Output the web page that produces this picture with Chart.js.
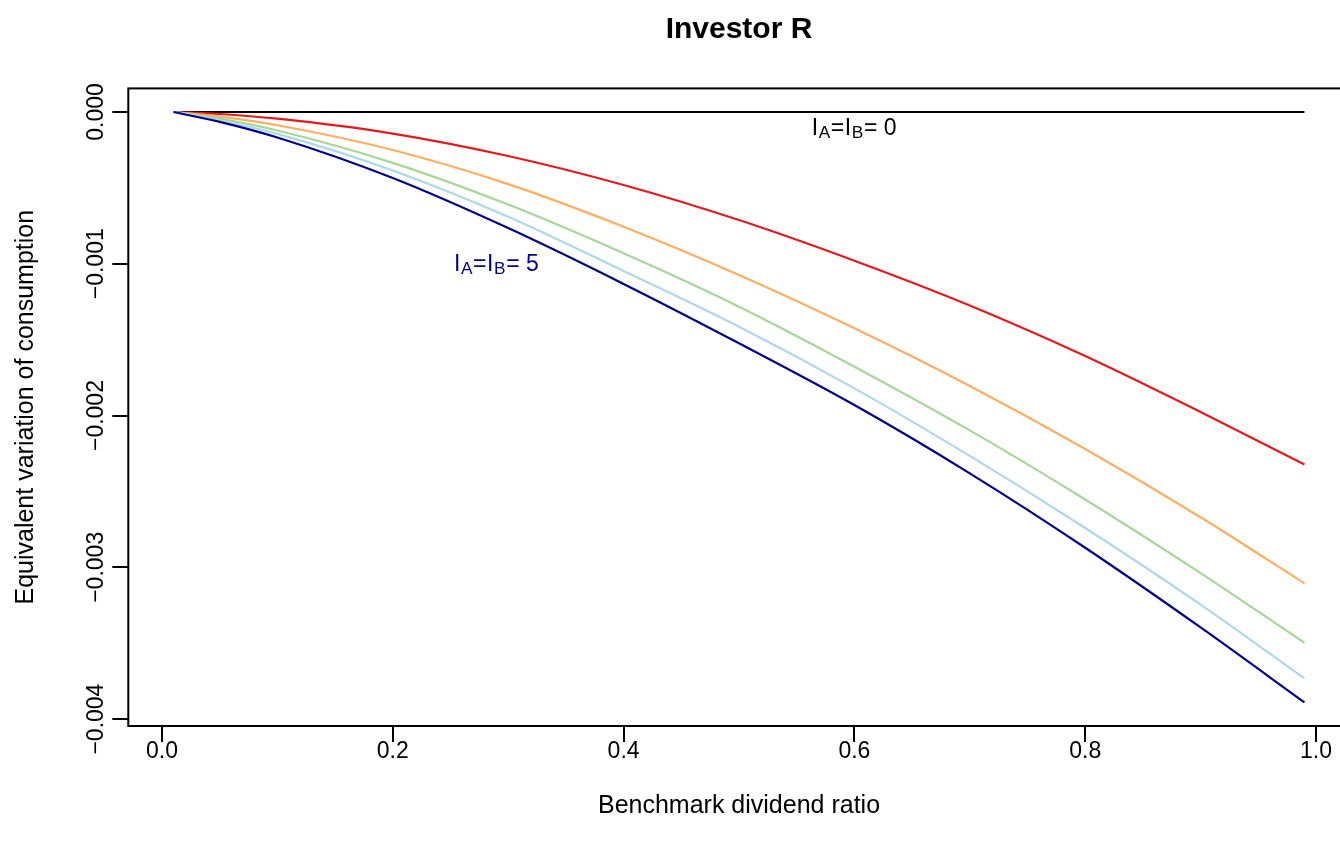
<!DOCTYPE html>
<html>
<head>
<meta charset="utf-8">
<script src="https://cdn.jsdelivr.net/npm/chart.js@4/dist/chart.umd.min.js"></script>
<style>
  html, body { margin: 0; padding: 0; background: #ffffff; overflow: hidden; }
  #wrap { width: 1360px; height: 846px; }
</style>
</head>
<body>
<div id="wrap"><canvas id="ev" width="1360" height="846"></canvas></div>
<script>
// Benchmark dividend ratio (x) and equivalent variation of consumption per information level
const dividendRatio = [0.01, 0.05, 0.1, 0.2, 0.3, 0.4, 0.5, 0.6, 0.7, 0.8, 0.9, 0.99];
const evLevel0 = [0, 0, 0, 0, 0, 0, 0, 0, 0, 0, 0, 0];
const evRed    = [0, -0.000013, -0.000044, -0.000142, -0.000290, -0.000481, -0.000712, -0.000980, -0.001275, -0.001608, -0.001977, -0.002322];
const evOrange = [0, -0.000030, -0.000087, -0.000250, -0.000475, -0.000756, -0.001074, -0.001425, -0.001805, -0.002220, -0.002670, -0.003106];
const evGreen  = [0, -0.000044, -0.000122, -0.000335, -0.000610, -0.000931, -0.001283, -0.001678, -0.002098, -0.002553, -0.003038, -0.003497];
const evBlue   = [0, -0.000054, -0.000144, -0.000385, -0.000690, -0.001048, -0.001415, -0.001821, -0.002266, -0.002741, -0.003246, -0.003732];
const evNavy   = [0, -0.000065, -0.000168, -0.000435, -0.000765, -0.001133, -0.001524, -0.001931, -0.002381, -0.002871, -0.003396, -0.003890];

const xTicks = [0, 0.2, 0.4, 0.6, 0.8, 1.0];
const xTickLabels = ['0.0', '0.2', '0.4', '0.6', '0.8', '1.0'];
const yTicks = [0, -0.001, -0.002, -0.003, -0.004];
const yTickLabels = ['0.000', '\u22120.001', '\u22120.002', '\u22120.003', '\u22120.004'];

const titleText = 'Investor R';
const xTitle = 'Benchmark dividend ratio';
const yTitle = 'Equivalent variation of consumption';

const FONT = '"Liberation Sans", Arial, Helvetica, sans-serif';
const FS = 23;        // tick labels and annotations
const FS_LAB = 25;    // axis titles
const FS_MAIN = 30;   // main title

// axis limits padded by 4% of the data range on each side
const allY = [].concat(evLevel0, evRed, evOrange, evGreen, evBlue, evNavy);
const yMaxD = Math.max(...allY), yMinD = Math.min(...allY);
const xMinD = Math.min(...dividendRatio), xMaxD = Math.max(...dividendRatio);
const yPad = (yMaxD - yMinD) * 0.04, xPad = (xMaxD - xMinD) * 0.04;

function series(vals, color, order) {
  return {
    data: dividendRatio.map((x, i) => ({ x: x, y: vals[i] })),
    borderColor: color,
    borderWidth: 2.2,
    pointRadius: 0,
    fill: false,
    cubicInterpolationMode: 'monotone',
    order: order
  };
}

// Draws the frame, titles, tick labels and the curve annotations
const framePlugin = {
  id: 'frame',
  afterDatasetsDraw(chart) {
    const { ctx, chartArea: a, scales } = chart;
    const xs = scales.x, ys = scales.y;
    ctx.save();
    ctx.strokeStyle = '#000';
    ctx.lineWidth = 2;
    ctx.strokeRect(a.left, a.top, a.right - a.left, a.bottom - a.top);

    ctx.fillStyle = '#000';
    ctx.font = 'bold ' + FS_MAIN + 'px ' + FONT;
    ctx.textAlign = 'center';
    ctx.textBaseline = 'middle';
    ctx.fillText(titleText, (a.left + a.right) / 2, 30);

    ctx.font = FS + 'px ' + FONT;
    xTicks.forEach((v, i) => ctx.fillText(xTickLabels[i], xs.getPixelForValue(v), 752));
    yTicks.forEach((v, i) => {
      ctx.save();
      ctx.translate(97, ys.getPixelForValue(v));
      ctx.rotate(-Math.PI / 2);
      ctx.fillText(yTickLabels[i], 0, 0);
      ctx.restore();
    });

    ctx.font = FS_LAB + 'px ' + FONT;
    ctx.fillText(xTitle, (a.left + a.right) / 2, 806);
    ctx.save();
    ctx.translate(26, (a.top + a.bottom) / 2);
    ctx.rotate(-Math.PI / 2);
    ctx.fillText(yTitle, 0, 0);
    ctx.restore();

    drawSubLabel(ctx, '0', xs.getPixelForValue(0.6), ys.getPixelForValue(-0.0001), '#000');
    drawSubLabel(ctx, '5', xs.getPixelForValue(0.29), ys.getPixelForValue(-0.001), '#00008B');
    ctx.restore();
  }
};

function drawSubLabel(ctx, n, cx, cy, color) {
  const sub = FS * 0.75;
  const parts = [['I', 0], ['A', 1], ['=', 0], ['I', 0], ['B', 1], ['= ' + n, 0]];
  let w = 0;
  parts.forEach(p => { ctx.font = (p[1] ? sub : FS) + 'px ' + FONT; w += ctx.measureText(p[0]).width + 0.6; });
  let x = cx - w / 2;
  ctx.fillStyle = color;
  ctx.textAlign = 'left';
  ctx.textBaseline = 'alphabetic';
  const base = cy + FS * 0.33;
  parts.forEach(p => {
    ctx.font = (p[1] ? sub : FS) + 'px ' + FONT;
    ctx.fillText(p[0], x, base + (p[1] ? 3 : 0));
    x += ctx.measureText(p[0]).width + 0.6;
  });
  ctx.textAlign = 'center';
  ctx.textBaseline = 'middle';
}

const tickGrid = { display: true, drawOnChartArea: false, drawTicks: true, tickLength: 16, color: '#000', lineWidth: 2 };

new Chart(document.getElementById('ev'), {
  type: 'line',
  data: {
    datasets: [
      series(evLevel0, '#000000', 6),
      series(evRed, '#E3191C', 5),
      series(evOrange, '#FDAE61', 4),
      series(evGreen, '#A6D796', 3),
      series(evBlue, '#ABD9E9', 2),
      series(evNavy, '#00008B', 1)
    ]
  },
  options: {
    responsive: false,
    animation: false,
    devicePixelRatio: 1,
    layout: { padding: { left: 0, right: 10.3, top: 88.4, bottom: 0 } },
    plugins: { legend: { display: false }, title: { display: false }, tooltip: { enabled: false } },
    scales: {
      x: {
        type: 'linear',
        min: xMinD - xPad,
        max: xMaxD + xPad,
        border: { display: false },
        grid: tickGrid,
        ticks: { display: false },
        afterBuildTicks: s => { s.ticks = xTicks.map(v => ({ value: v })); },
        afterFit: s => { s.height = 120; }
      },
      y: {
        type: 'linear',
        min: yMinD - yPad,
        max: yMaxD + yPad,
        border: { display: false },
        grid: tickGrid,
        ticks: { display: false },
        afterBuildTicks: s => { s.ticks = yTicks.map(v => ({ value: v })); },
        afterFit: s => { s.width = 128.3; }
      }
    }
  },
  plugins: [framePlugin]
});
</script>
</body>
</html>
